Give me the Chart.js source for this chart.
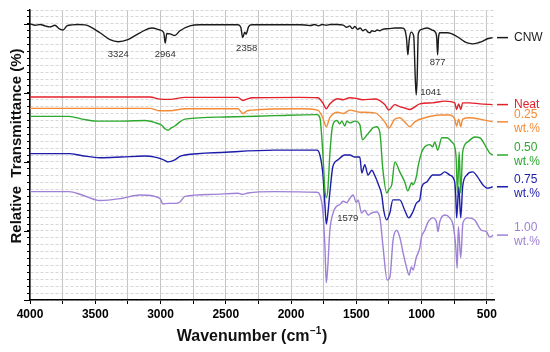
<!DOCTYPE html>
<html>
<head>
<meta charset="utf-8">
<script src="https://cdn.jsdelivr.net/npm/chart.js@4.4.1/dist/chart.umd.min.js"></script>
<style>
html,body{margin:0;padding:0;background:#fff}
#wrap{width:550px;height:352px}
</style>
</head>
<body>
<div id="wrap"><canvas id="ftir" width="550" height="352"></canvas></div>
<script>
'use strict';

/* ── FTIR spectra, [wavenumber, relative transmittance] ── */
var cnw=[[4000,40.0],[3960,39.8],[3923,39.9],[3885,39.7],[3847,39.55],[3809,39.8],[3778,39.3],[3747,39.1],[3717,39.7],[3678,39.85],[3632,39.9],[3579,39.85],[3541,39.6],[3464,38.7],[3387,37.7],[3324,37.4],[3250,37.7],[3158,38.7],[3066,39.4],[3005,39.1],[2975,38.7],[2964,37.2],[2952,38.6],[2928,38.55],[2890,38.3],[2851,39.0],[2775,39.7],[2698,39.86],[2407,39.86],[2385,39.5],[2370,38.0],[2355,38.8],[2345,38.5],[2325,39.6],[2300,39.86],[1933,39.86],[1880,39.8],[1850,39.75],[1820,39.9],[1790,39.7],[1760,39.9],[1730,39.8],[1700,39.9],[1650,39.9],[1600,39.8],[1573,39.5],[1550,39.7],[1530,39.3],[1511,39.6],[1490,39.2],[1470,39.4],[1450,39.0],[1430,39.2],[1410,38.8],[1396,38.7],[1380,39.0],[1360,38.9],[1340,39.1],[1320,39.0],[1300,39.2],[1250,39.3],[1200,39.4],[1150,39.4],[1130,39.2],[1115,37.8],[1105,35.5],[1095,37.6],[1080,38.8],[1060,38.2],[1048,32.0],[1041,29.7],[1034,32.0],[1025,38.6],[1000,39.2],[960,39.4],[920,39.1],[895,38.8],[884,38.0],[877,35.5],[870,38.0],[860,38.7],[800,38.7],[740,38.3],[700,37.8],[660,37.3],[608,37.1],[560,37.3],[530,37.5],[500,37.8],[455,38.0]];

var neat=[[4000,29.4],[3081,29.4],[3005,29.1],[2928,29.05],[2813,29.35],[2407,29.35],[2369,28.9],[2338,29.1],[2300,29.3],[1933,29.35],[1795,29.3],[1757,28.55],[1730,27.7],[1703,28.4],[1642,29.15],[1600,29.0],[1550,29.3],[1500,29.2],[1453,29.0],[1358,29.1],[1282,28.3],[1251,27.5],[1205,28.3],[1167,28.0],[1129,27.8],[1090,27.6],[1014,28.4],[914,28.55],[822,28.8],[746,28.55],[731,27.6],[716,28.4],[700,27.6],[685,28.55],[631,28.55],[554,28.4],[455,28.3]];

var wt025=[[4000,27.75],[3081,27.75],[3005,27.4],[2928,27.4],[2813,27.7],[2407,27.7],[2369,27.0],[2338,27.4],[2300,27.5],[1933,27.7],[1795,27.5],[1757,26.4],[1730,25.1],[1703,26.4],[1642,27.2],[1600,27.0],[1550,27.5],[1473,27.2],[1358,27.1],[1282,25.8],[1251,24.9],[1205,26.2],[1167,26.4],[1129,25.8],[1090,25.1],[1052,25.8],[975,26.4],[861,26.8],[784,26.8],[746,26.2],[731,25.2],[716,26.2],[700,25.1],[685,26.2],[631,26.4],[554,26.2],[455,25.8]];

var wt050=[[4000,26.6],[3701,26.6],[3600,26.2],[3495,25.9],[3300,25.9],[3119,26.0],[3043,25.7],[2990,25.3],[2966,24.8],[2940,24.6],[2920,24.9],[2890,25.2],[2851,25.8],[2813,26.2],[2500,26.5],[2124,26.7],[1802,26.85],[1779,26.4],[1757,21.45],[1741,16.0],[1730,14.8],[1718,16.0],[1703,21.0],[1687,24.6],[1670,25.8],[1649,26.0],[1627,25.5],[1611,25.9],[1588,25.2],[1573,25.9],[1550,25.65],[1511,25.9],[1473,25.4],[1453,23.2],[1435,23.5],[1419,23.9],[1396,24.4],[1374,24.9],[1345,25.1],[1320,24.35],[1297,19.0],[1266,15.5],[1251,16.0],[1228,16.7],[1205,20.0],[1167,18.55],[1129,17.1],[1106,15.8],[1075,17.0],[1067,16.7],[1037,18.1],[1029,19.1],[998,21.45],[975,22.2],[937,22.5],[914,22.2],[899,22.9],[876,21.7],[845,23.5],[807,23.5],[769,22.9],[746,22.2],[735,20.5],[725,15.5],[712,21.45],[700,15.5],[685,21.45],[646,22.9],[593,23.6],[554,23.5],[501,22.0],[478,21.3],[455,21.0]];

var wt075=[[4000,21.2],[3701,21.2],[3600,20.9],[3464,20.6],[3300,20.7],[3119,20.85],[3043,20.7],[2990,20.4],[2966,20.2],[2943,20.0],[2890,20.3],[2851,20.8],[2813,21.0],[2500,21.4],[2124,21.7],[1802,21.7],[1779,21.0],[1757,18.4],[1741,14.0],[1730,11.0],[1718,12.5],[1703,15.5],[1695,17.0],[1680,19.3],[1640,20.3],[1610,20.8],[1588,21.0],[1550,21.0],[1511,20.7],[1473,20.7],[1458,18.4],[1435,19.6],[1410,18.1],[1381,18.8],[1360,18.1],[1330,16.7],[1305,15.2],[1290,13.0],[1268,11.6],[1243,12.6],[1220,14.5],[1167,14.5],[1129,13.0],[1098,11.9],[1067,12.75],[1037,14.1],[1014,14.5],[998,16.4],[960,17.1],[914,18.1],[861,18.1],[822,18.55],[784,18.1],[746,17.1],[738,15.0],[731,11.9],[715,16.4],[700,11.9],[685,16.4],[654,18.1],[608,18.55],[570,17.8],[531,16.7],[493,16.2],[455,16.4]];

var wt100=[[4000,15.7],[3701,15.7],[3600,15.2],[3464,14.4],[3300,14.7],[3158,15.2],[3043,15.0],[3000,14.6],[2982,13.9],[2940,14.0],[2890,14.0],[2851,14.2],[2813,15.0],[2600,15.3],[2407,15.45],[2369,15.3],[2330,15.5],[2124,15.7],[1802,15.6],[1779,15.2],[1757,13.0],[1741,8.0],[1730,2.5],[1718,5.0],[1703,10.0],[1678,12.6],[1650,13.6],[1627,13.8],[1601,14.3],[1575,14.1],[1550,14.7],[1525,15.2],[1499,14.1],[1486,14.5],[1460,12.6],[1435,13.0],[1409,12.3],[1384,12.6],[1345,12.75],[1320,12.0],[1295,7.7],[1264,2.9],[1243,3.3],[1218,8.7],[1192,10.1],[1167,9.1],[1141,6.8],[1116,4.8],[1096,3.6],[1078,4.8],[1065,4.35],[1040,6.2],[1014,7.5],[1001,9.1],[975,10.1],[950,11.3],[912,11.9],[886,11.3],[874,9.9],[861,11.3],[822,12.3],[784,11.9],[759,10.9],[738,7.7],[727,4.6],[718,10.6],[700,6.1],[683,11.2],[645,11.9],[593,11.6],[542,10.1],[503,9.9],[478,9.1],[452,9.4]];

var seriesNames=['CNW','Neat','0.25 wt.%','0.50 wt.%','0.75 wt.%','1.00 wt.%'];
var seriesData=[cnw,neat,wt025,wt050,wt075,wt100];
var seriesColors=['#1b1b1b','#e3202a','#f48b37','#2ca82c','#1d1dab','#9e80d6'];

var peakLabels=[['3324',3324,35.6],['2964',2964,35.6],['2358',2340,36.5],['877',877,34.4],['1041',1041,30.0],['1579',1565,11.8]];

var xTicks=[500,750,1000,1250,1500,1750,2000,2250,2500,2750,3000,3250,3500,3750,4000];
var xLabelStep=500, yTop=42, yMajorStep=10;

var FONT='"Liberation Sans", Arial, Helvetica, sans-serif';

var datasets=[];
for(var i=0;i<seriesData.length;i++){
  datasets.push({
    label:seriesNames[i],
    data:seriesData[i].map(function(p){return{x:p[0],y:p[1]};}),
    borderColor:seriesColors[i],
    borderWidth:1.4,
    pointRadius:0,
    fill:false,
    cubicInterpolationMode:'monotone'
  });
}

var overlay={
  id:'overlay',
  afterDraw:function(chart){
    var c=chart.ctx,sx=chart.scales.x,sy=chart.scales.y,ca=chart.chartArea;
    c.save();
    // longer marks on the major y ticks
    c.strokeStyle='#000';c.lineWidth=1;
    for(var v=0;v<=yTop;v+=yMajorStep){
      var ty=Math.round(sy.getPixelForValue(v))+0.5;
      c.beginPath();c.moveTo(ca.left-6,ty);c.lineTo(ca.left,ty);c.stroke();
    }
    // peak annotations
    c.fillStyle='#333';c.font='9.5px '+FONT;c.textBaseline='middle';
    for(var i=0;i<peakLabels.length;i++){
      var p=peakLabels[i];
      var px=sx.getPixelForValue(p[1]),py=sy.getPixelForValue(p[2]);
      if(p[0]==='1041'){c.textAlign='left';px+=4;}else c.textAlign='center';
      c.fillText(p[0],px,py);
    }
    // right-hand series labels
    c.font='12px '+FONT;c.textAlign='left';
    for(var j=0;j<seriesData.length;j++){
      var d=seriesData[j],last=d[d.length-1][1];
      var ly=sy.getPixelForValue(last);
      c.strokeStyle=seriesColors[j];c.lineWidth=1.5;
      c.beginPath();c.moveTo(ca.right+3,ly);c.lineTo(ca.right+14,ly);c.stroke();
      c.fillStyle=seriesColors[j];
      var parts=seriesNames[j].split(' ');
      if(parts.length===1)c.fillText(parts[0],ca.right+20,ly);
      else{c.fillText(parts[0],ca.right+20,ly-7);c.fillText(parts[1],ca.right+20,ly+7);}
    }
    // axis titles
    c.fillStyle='#111';
    c.font='bold 16px '+FONT;
    var t1='Wavenumber (cm',t2='\u22121',t3=')';
    var w1=c.measureText(t1).width,w3=c.measureText(t3).width;
    c.font='bold 10px '+FONT;var w2=c.measureText(t2).width;
    var x0=252-(w1+w2+w3+1)/2,by=341;
    c.textAlign='left';c.textBaseline='alphabetic';
    c.font='bold 16px '+FONT;c.fillText(t1,x0,by);
    c.font='bold 10px '+FONT;c.fillText(t2,x0+w1+0.5,by-7);
    c.font='bold 16px '+FONT;c.fillText(t3,x0+w1+w2+1,by);
    c.translate(17,146);c.rotate(-Math.PI/2);
    c.font='bold 15px '+FONT;c.textAlign='center';c.textBaseline='middle';
    c.fillText('Relative  Transmittance (%)',0,0);
    c.restore();
  }
};

new Chart(document.getElementById('ftir'),{
  type:'line',
  data:{datasets:datasets},
  plugins:[overlay],
  options:{
    responsive:false,animation:false,events:[],
    layout:{padding:{top:10,right:56,left:0,bottom:0}},
    plugins:{legend:{display:false},tooltip:{enabled:false}},
    scales:{
      x:{type:'linear',reverse:true,min:445,max:4000,
        afterBuildTicks:function(s){s.ticks=xTicks.map(function(v){return{value:v};});},
        afterFit:function(s){s.height=52;},
        border:{color:'#000',width:1.5},
        grid:{color:'#c4c4c4',lineWidth:1,tickColor:'#000',tickLength:4},
        ticks:{autoSkip:false,maxRotation:0,padding:3,color:'#000',
          font:{family:FONT,size:12,weight:'bold'},
          callback:function(v){return v%xLabelStep===0?String(v):'';}}
      },
      y:{type:'linear',min:0,max:yTop,
        afterBuildTicks:function(s){var t=[];for(var k=0;k<=yTop;k++)t.push({value:k});s.ticks=t;},
        afterFit:function(s){s.width=30;},
        border:{color:'#000',width:1.5,dash:[3,2]},
        grid:{color:'#d6d6d6',lineWidth:1,tickColor:'#000',tickLength:3},
        ticks:{autoSkip:false,padding:0,callback:function(){return '';}}
      }
    }
  }
});
</script>
</body>
</html>
